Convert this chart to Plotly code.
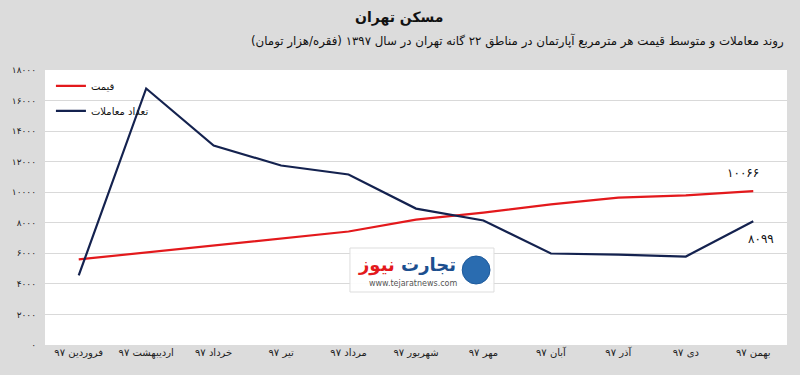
import plotly.graph_objects as go

months = ["فروردین ۹۷", "اردیبهشت ۹۷", "خرداد ۹۷", "تیر ۹۷", "مرداد ۹۷", "شهریور ۹۷",
          "مهر ۹۷", "آبان ۹۷", "آذر ۹۷", "دی ۹۷", "بهمن ۹۷"]
price = [5600, 6050, 6510, 6970, 7430, 8210, 8670, 9200, 9650, 9790, 10066]
transactions = [4550, 16790, 13060, 11750, 11160, 8930, 8150, 5990, 5920, 5790, 8099]
y_ticks = [0, 2000, 4000, 6000, 8000, 10000, 12000, 14000, 16000, 18000]

FA = str.maketrans("0123456789", "۰۱۲۳۴۵۶۷۸۹")
def fa(n):
    return str(n).translate(FA)

FONT = "DejaVu Sans"
fig = go.Figure()
fig.add_trace(go.Scatter(x=months, y=price, mode="lines", name="قیمت",
                         line=dict(color="#e3191c", width=2.2), legendgroup="a"))
fig.add_trace(go.Scatter(x=months, y=transactions, mode="lines", name="تعداد معاملات",
                         line=dict(color="#14224f", width=2.2), legendgroup="b"))

fig.add_annotation(x=months[-1], y=price[-1], text=fa(price[-1]), showarrow=False,
                   xshift=-10, yshift=18, font=dict(family=FONT, size=12, color="#111"))
fig.add_annotation(x=months[-1], y=transactions[-1], text=fa(transactions[-1]), showarrow=False,
                   xshift=8, yshift=-18, font=dict(family=FONT, size=12, color="#111"))

# titles
fig.add_annotation(xref="paper", yref="paper", x=(396 - 40) / 747, y=1 + (70 - 17) / 275,
                   yanchor="middle", text="<b>مسکن تهران</b>", showarrow=False,
                   font=dict(family=FONT, size=14, color="#111"))
fig.add_annotation(xref="paper", yref="paper", x=(516 - 40) / 747, y=1 + (70 - 41) / 275,
                   yanchor="middle",
                   text="روند معاملات و متوسط قیمت هر مترمربع آپارتمان در مناطق ۲۲ گانه تهران در سال ۱۳۹۷ (فقره/هزار تومان)",
                   showarrow=False, font=dict(family=FONT, size=11.8, color="#111"))

# watermark logo
fig.add_shape(type="rect", xref="paper", yref="paper",
              x0=(347 - 40) / 747, x1=(492 - 40) / 747,
              y0=(345 - 292) / 275, y1=(345 - 248) / 275,
              line=dict(color="#dddddd", width=1), fillcolor="rgba(255,255,255,0.9)")
fig.add_shape(type="circle", xref="paper", yref="paper",
              x0=(460 - 40) / 747, x1=(488 - 40) / 747,
              y0=(345 - 284) / 275, y1=(345 - 256) / 275,
              line=dict(color="#1d5a9c", width=1), fillcolor="#2a6cb0")
fig.add_annotation(xref="paper", yref="paper", x=(456 - 40) / 747, y=(345 - 265) / 275,
                   xanchor="right", yanchor="middle",
                   text="<b><span style='color:#1d4f8f'>تجارت</span> <span style='color:#e3191c'>نیوز</span></b>",
                   showarrow=False, font=dict(family=FONT, size=18))
fig.add_annotation(xref="paper", yref="paper", x=(410 - 40) / 747, y=(345 - 283) / 275,
                   yanchor="middle", text="www.tejaratnews.com", showarrow=False,
                   font=dict(family=FONT, size=8, color="#555"))

fig.update_layout(
    width=800, height=375,
    margin=dict(l=40, r=13, t=70, b=30),
    paper_bgcolor="#dcdcdc", plot_bgcolor="#ffffff",
    font=dict(family=FONT, color="#222"),
    showlegend=True,
    legend=dict(x=0.008, y=0.995, xanchor="left", yanchor="top",
                bgcolor="rgba(0,0,0,0)", font=dict(family=FONT, size=10, color="#111"),
                traceorder="grouped", tracegroupgap=6, itemwidth=30),
    xaxis=dict(type="category", range=[-0.5, 10.5], showgrid=False, zeroline=False,
               showline=False, ticks="", tickfont=dict(family=FONT, size=10, color="#222")),
    yaxis=dict(range=[0, 18000], tickvals=y_ticks, ticktext=[fa(v) for v in y_ticks],
               showgrid=True, gridcolor="#d9d9d9", gridwidth=1, zeroline=False,
               showline=False, ticks="", ticklabelstandoff=8,
               tickfont=dict(family=FONT, size=9, color="#222")),
)

fig.write_html("out.html", config={"displayModeBar": False},
               post_script="document.body.style.margin='0';")
